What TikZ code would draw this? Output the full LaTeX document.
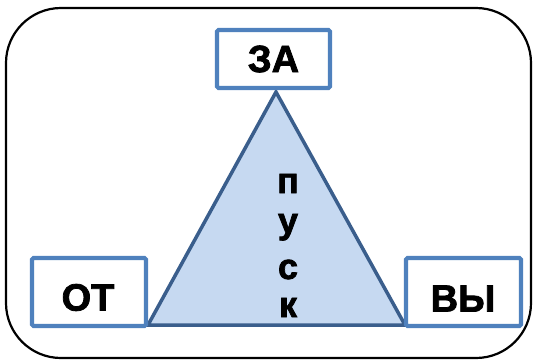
\documentclass[tikz,border=0pt]{standalone}
\usepackage{fontspec}
\setmainfont{Liberation Sans}
\newfontfamily\heavy[BoldFont={Liberation Sans Bold},BoldFeatures={FakeBold=2}]{Liberation Sans}
\begin{document}
\begin{tikzpicture}[x=1pt,y=-1pt,
  box/.style={draw=boxblue,line width=4.2pt,fill=white,rounded corners=1.5pt},
  lbl/.style={font=\heavy\fontsize{38}{38}\selectfont\bfseries,text=black,inner sep=0pt},
  vlbl/.style={font=\heavy\fontsize{36}{36}\selectfont\bfseries,text=black,inner sep=0pt}]
\definecolor{boxblue}{HTML}{4F81BD}
\definecolor{trifill}{HTML}{C6D9F1}
\definecolor{triline}{HTML}{3A5E8C}
\useasboundingbox (0,0) rectangle (536,362);
\draw[line width=2.2pt,rounded corners=55pt] (6,8) rectangle (531,358);
\coordinate (apex) at (276,92);
\coordinate (bl) at (148,325);
\coordinate (br) at (405,325);
\filldraw[fill=trifill,draw=triline,line width=3.5pt,line join=miter] (apex) -- (bl) -- (br) -- cycle;
\node[box,minimum width=113pt,minimum height=58pt] (za) at (273.5,59) {};
\node[box,minimum width=114pt,minimum height=68pt] (ot) at (89,292) {};
\node[box,minimum width=115pt,minimum height=68pt] (vy) at (463.5,292) {};
\node[lbl] (tza) at (za.center) {ЗА};
\node[lbl] (tot) at (88,297.5) {ОТ};
\node[lbl] (tvy) at (463,298.5) {ВЫ};
\node[vlbl,anchor=base] (p1) at (288,193) {п};
\node[vlbl,anchor=base] (p2) at (288,233) {у};
\node[vlbl,anchor=base] (p3) at (288,279) {с};
\node[vlbl,anchor=base] (p4) at (288,317) {к};
\end{tikzpicture}
\end{document}
